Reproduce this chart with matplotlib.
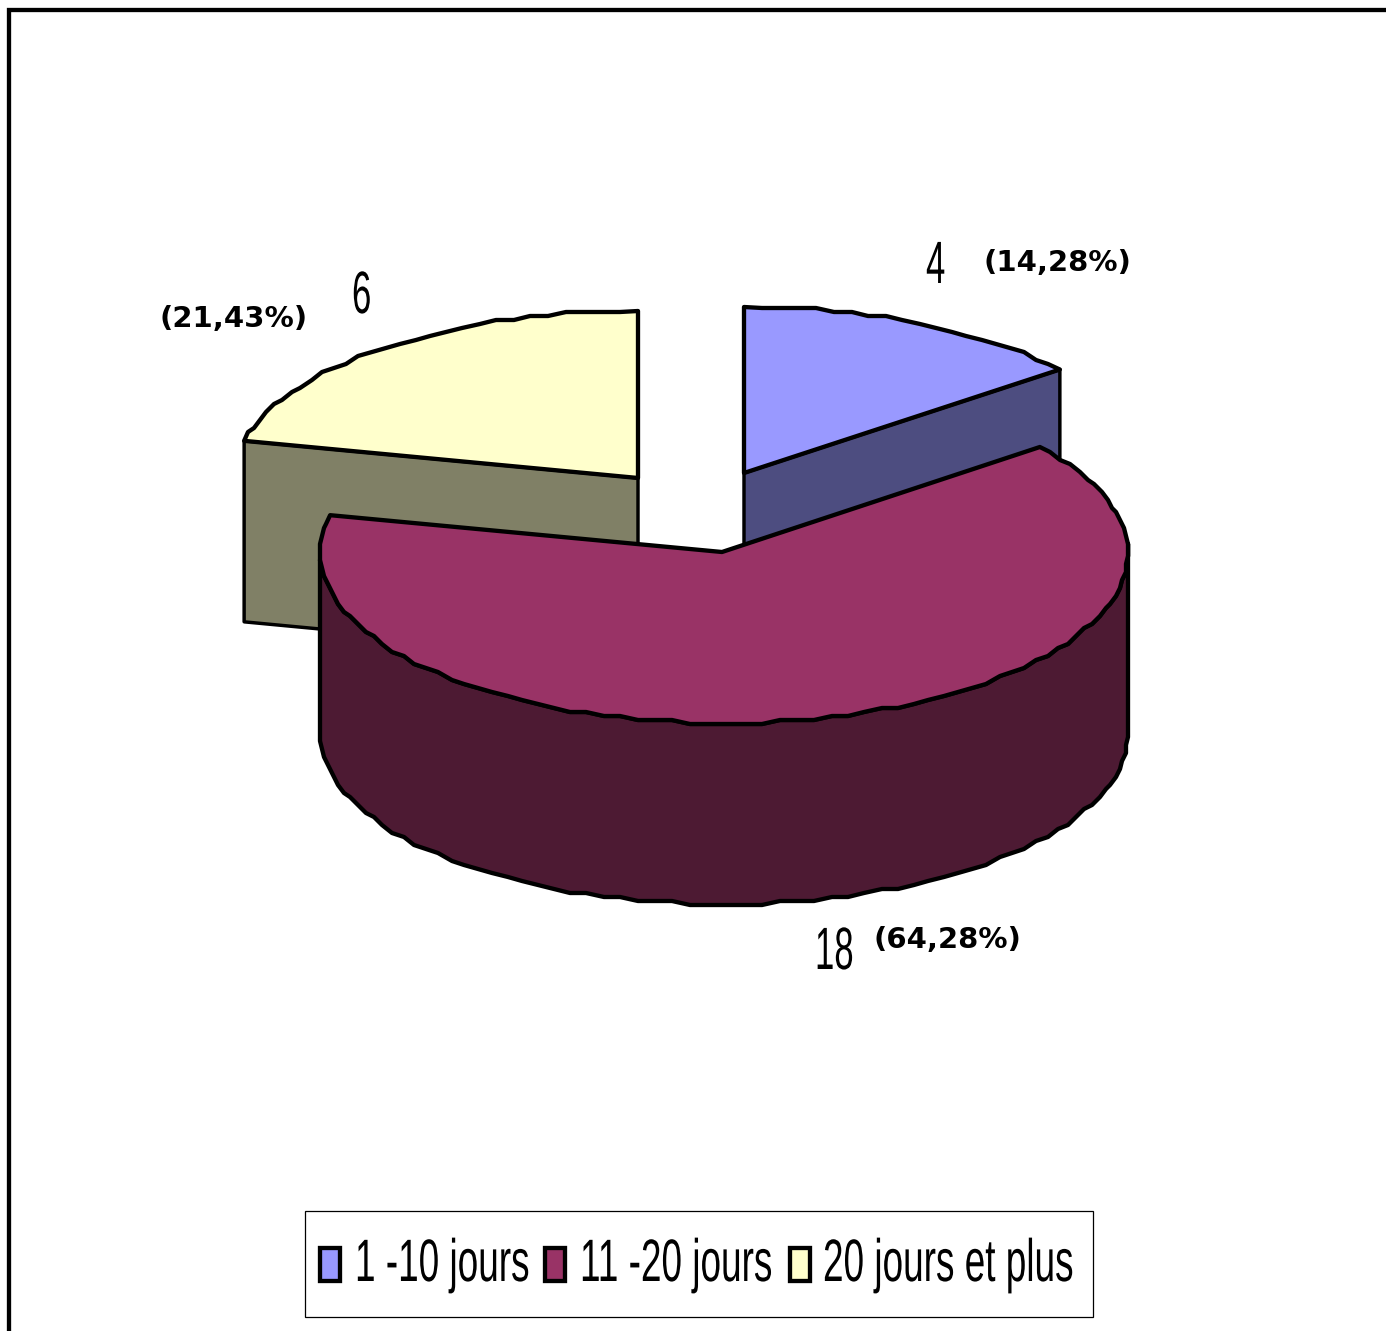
import numpy as np
import matplotlib
matplotlib.use("Agg")
import matplotlib.pyplot as plt
from matplotlib.patches import Polygon, Rectangle
from matplotlib.patheffects import AbstractPathEffect
from matplotlib.transforms import Affine2D

# data
categories = ["1 -10 jours", "11 -20 jours", "20 jours et plus"]
counts = [4, 18, 6]
percent_labels = ["(14,28%)", "(64,28%)", "(21,43%)"]

top_colors = ["#9999FF", "#993366", "#FFFFCC"]
side_colors = ["#4D4D80", "#4D1A33", "#808066"]

# pie geometry, in pixels
rx, depth = 404, 181
radii_y = [166, 170, 167]
centers = [(744, 473), (724, 553), (638, 478)]
count_pos = [(926, 283), (815, 969), (352, 313)]
percent_pos = [(984, 271), (874, 948), (160, 327)]
legend_swatch_x = [320, 545, 790]
legend_text_x = [355, 580, 823]
lw = 3.1


class Tall(AbstractPathEffect):
    # stretches glyph outlines vertically around the baseline y0
    def __init__(self, y0, sy):
        super().__init__()
        self.y0 = y0
        self.sy = sy

    def draw_path(self, renderer, gc, tpath, affine, rgbFace=None):
        tall = Affine2D().translate(0, -self.y0).scale(1, self.sy).translate(0, self.y0)
        renderer.draw_path(gc, tpath, affine + tall, rgbFace)


def rim(cx, cy, ry, a0, a1, step=2.5, xgrid=2, ygrid=4):
    # rim of the slice, a0 and a1 in degrees clockwise from 12 o'clock
    n = max(2, int(abs(a1 - a0) / step) + 1)
    a = np.radians(np.linspace(a0, a1, n))
    x = cx + rx * np.sin(a)
    y = cy - ry * np.cos(a)
    xs = np.round(x / xgrid) * xgrid
    ys = np.round(y / ygrid) * ygrid
    xs[0], ys[0], xs[-1], ys[-1] = x[0], y[0], x[-1], y[-1]
    return np.column_stack([xs, ys])


def tall_text(x, y, s, size=26.6, sy=1.62):
    t = ax.text(x, y, s, fontsize=size, family="Liberation Sans", color="black",
                va="baseline", ha="left", zorder=8)
    y0 = ax.transData.transform((x, y))[1]
    t.set_path_effects([Tall(y0, sy)])
    return t


fig = plt.figure(figsize=(13.86, 13.31), dpi=100)
ax = fig.add_axes([0, 0, 1, 1])
ax.set_xlim(0, 1386)
ax.set_ylim(1331, 0)
ax.axis("off")

# outer frame, open on the right and at the bottom
ax.plot([9, 9, 1386], [1331, 10, 10], color="black", lw=lw, solid_joinstyle="miter")

angles = 360 * np.cumsum([0] + counts) / sum(counts)
spans = list(zip(angles[:-1], angles[1:]))

# cut faces of the two small slices, behind the big one
for i, edge in [(0, spans[0][1]), (2, spans[2][0])]:
    cx, cy = centers[i]
    a = np.radians(edge)
    px, py = cx + rx * np.sin(a), cy - radii_y[i] * np.cos(a)
    quad = [(cx, cy), (px, py), (px, py + depth), (cx, cy + depth)]
    ax.add_patch(Polygon(quad, closed=True, fc=side_colors[i], ec="black", lw=lw * 0.8, joinstyle="round", zorder=2))

for i in (0, 2):
    cx, cy = centers[i]
    pts = np.vstack([[(cx, cy)], rim(cx, cy, radii_y[i], *spans[i])])
    ax.add_patch(Polygon(pts, closed=True, fc=top_colors[i], ec="black", lw=lw, joinstyle="round", zorder=3))

# big slice: outer wall then top, the wall follows the lower part of the top rim
cx, cy = centers[1]
top_rim = rim(cx, cy, radii_y[1], *spans[1])
upper = top_rim[np.argmax(top_rim[:, 0]):np.argmin(top_rim[:, 0]) + 1]
wall = np.vstack([upper, (upper + [0, depth])[::-1]])
ax.add_patch(Polygon(wall, closed=True, fc=side_colors[1], ec="black", lw=lw, joinstyle="round", zorder=4))
pts = np.vstack([[(cx - 2, cy - 1)], top_rim])
ax.add_patch(Polygon(pts, closed=True, fc=top_colors[1], ec="black", lw=lw, joinstyle="round", zorder=5))

# value labels
for n, pos in zip(counts, count_pos):
    tall_text(pos[0], pos[1], str(n), size=25, sy=1.72)
for s, pos in zip(percent_labels, percent_pos):
    ax.text(pos[0], pos[1], s, fontsize=21, family="DejaVu Sans", weight="bold", color="black", va="baseline", ha="left")

# legend
ax.add_patch(Rectangle((305, 1211), 788, 106, fc="white", ec="black", lw=0.9, zorder=6))
for name, c, sw, tx in zip(categories, top_colors, legend_swatch_x, legend_text_x):
    ax.add_patch(Rectangle((sw, 1248), 20, 33, fc=c, ec="black", lw=lw, zorder=7))
    tall_text(tx, 1281, name)

fig.savefig("out.png", dpi=100)
